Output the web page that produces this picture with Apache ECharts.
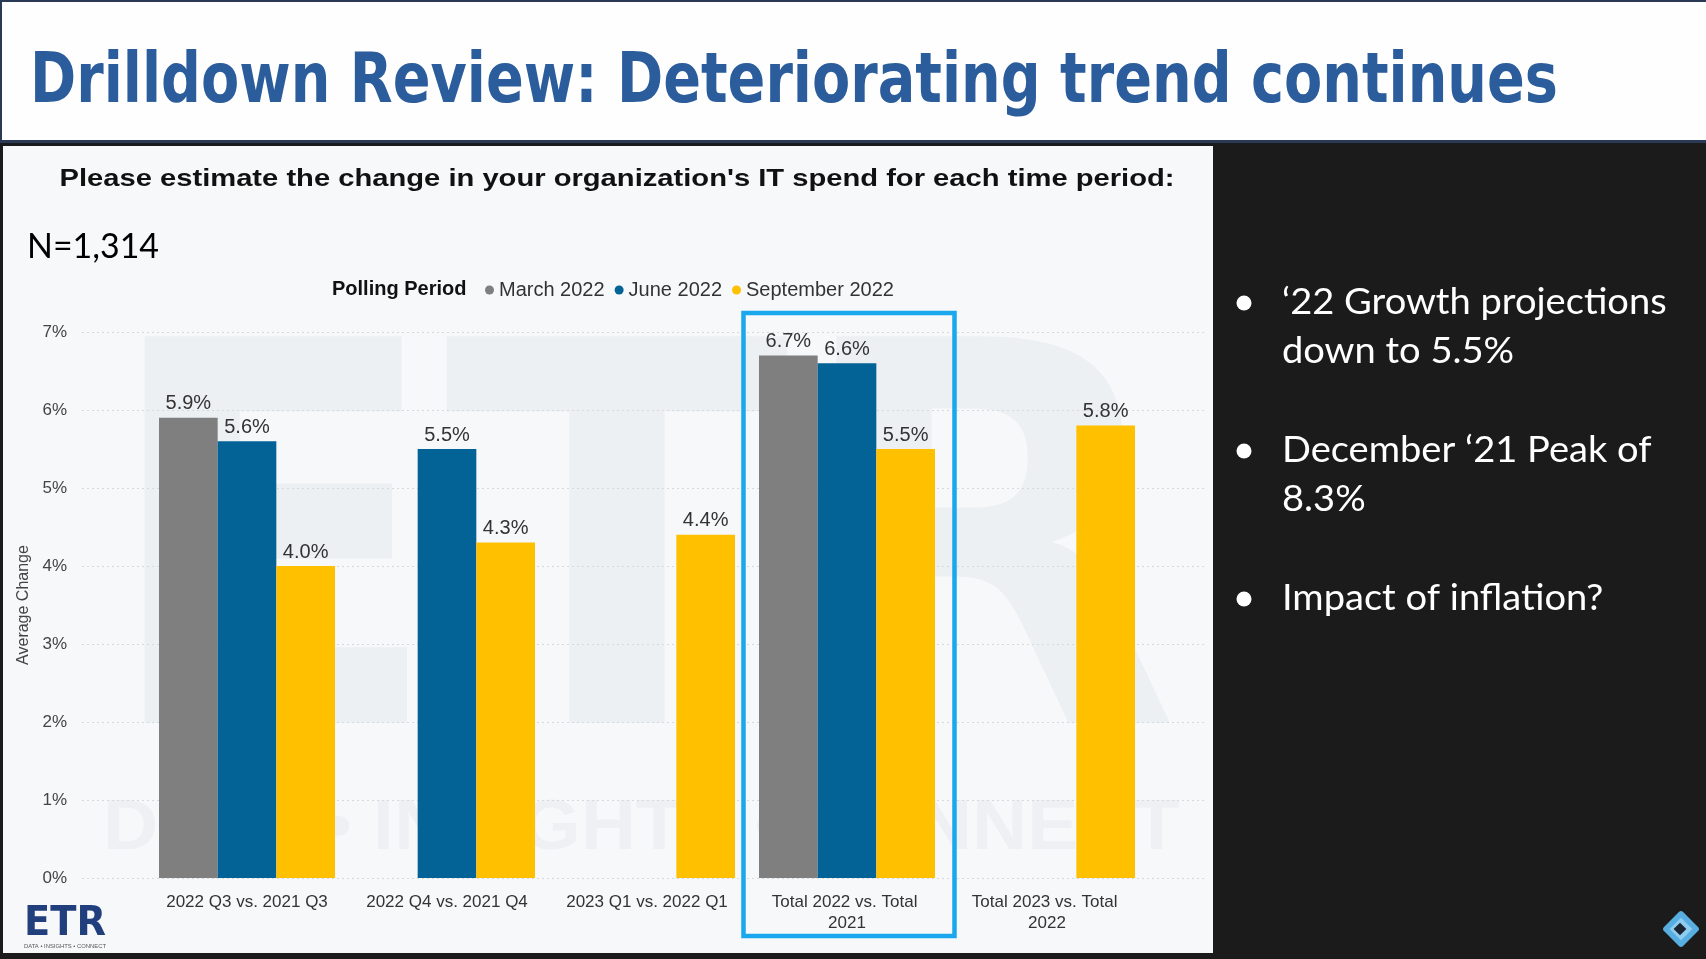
<!DOCTYPE html>
<html>
<head>
<meta charset="utf-8">
<script src="https://cdn.jsdelivr.net/npm/echarts@6/dist/echarts.min.js"></script>
<style>
html,body{margin:0;padding:0;background:#1b1b1b;overflow:hidden}
#main{width:1706px;height:959px}
</style>
</head>
<body>
<div id="main"></div>
<script>
// ---------------- data ----------------
const categories = [
  '2022 Q3 vs. 2021 Q3',
  '2022 Q4 vs. 2021 Q4',
  '2023 Q1 vs. 2022 Q1',
  'Total 2022 vs. Total 2021',
  'Total 2023 vs. Total 2022'
];
const seriesNames = ['March 2022', 'June 2022', 'September 2022'];
const march2022 = [5.9, null, null, 6.7, null];
const june2022 = [5.6, 5.5, null, 6.6, null];
const september2022 = [4.0, 4.3, 4.4, 5.5, 5.8];
const yTickValues = [0, 1, 2, 3, 4, 5, 6, 7];
const highlightedCategory = 'Total 2022 vs. Total 2021';

const titleText = 'Drilldown Review: Deteriorating trend continues';
const questionText = "Please estimate the change in your organization's IT spend for each time period:";
const sampleText = 'N=1,314';
const legendTitle = 'Polling Period';
const yAxisTitle = 'Average Change';
const bulletLines = [
  ['\u201822 Growth projections', 'down to 5.5%'],
  ['December \u201821 Peak of', '8.3%'],
  ['Impact of inflation?']
];

// ---------------- styles ----------------
const COLORS = ['#7f7f7f', '#036396', '#ffc000'];
const SANS = '"Liberation Sans", Arial, sans-serif';
const CAL = 'Lato, "Open Sans", sans-serif';
const VERD = '"DejaVu Sans", Verdana, sans-serif';

const mctx = document.createElement('canvas').getContext('2d');
function fitScale(text, font, target) {
  mctx.font = font;
  return target / mctx.measureText(text).width;
}
function textEl(id, text, x, y, opts) {
  const size = opts.size, weight = opts.weight || 'normal', family = opts.family || SANS;
  const font = weight + ' ' + size + 'px ' + family;
  const sx = opts.target ? fitScale(text, font, opts.target) : (opts.scaleX || 1);
  return {
    id: id, type: 'text', x: x, y: y, scaleX: sx, z: opts.z == null ? 5 : opts.z,
    rotation: opts.rotation || 0, silent: true,
    style: {
      text: text, fill: opts.fill || '#000', font: font,
      fontSize: size, fontWeight: weight, fontFamily: family,
      textAlign: opts.align || 'left', align: opts.align || 'left',
      textVerticalAlign: 'middle', verticalAlign: 'middle'
    }
  };
}

const chart = echarts.init(document.getElementById('main'), null, {renderer: 'canvas'});

const graphics = [];
// backgrounds
graphics.push({id: 'titleBand', type: 'rect', shape: {x: 0, y: 0, width: 1706, height: 141}, style: {fill: '#fefefe'}, z: -30, silent: true});
graphics.push({id: 'topBorder', type: 'rect', shape: {x: 0, y: 0, width: 1706, height: 2}, style: {fill: '#2a3a56'}, z: -29, silent: true});
graphics.push({id: 'leftBorder', type: 'rect', shape: {x: 0, y: 0, width: 2, height: 141}, style: {fill: '#2a3a56'}, z: -29, silent: true});
graphics.push({id: 'titleLine', type: 'rect', shape: {x: 0, y: 140, width: 1706, height: 3}, style: {fill: '#2a3a56'}, z: -29, silent: true});
graphics.push({id: 'chartBg', type: 'rect', shape: {x: 3, y: 146, width: 1210, height: 807}, style: {fill: '#f7f8fa'}, z: -30, silent: true});

// watermark
graphics.push(textEl('wmETR', 'ETR', 98, 585, {size: 530, weight: 'bold', family: VERD, fill: '#edf0f3', target: 1082, z: -20}));
graphics.push(textEl('wmTag', 'DATA \u2022 INSIGHTS \u2022 CONNECT', 103, 830, {size: 70, weight: 'bold', family: SANS, fill: '#eef0f3', target: 1077, z: -20}));

// texts
graphics.push(textEl('title', titleText, 30, 84, {size: 70, weight: 'bold', family: VERD, fill: '#2b5c9c', target: 1528}));
graphics.push(textEl('question', questionText, 617, 179, {size: 24, weight: 'bold', family: SANS, fill: '#111111', align: 'center', target: 1115}));
graphics.push(textEl('sample', sampleText, 27, 247, {size: 35, family: CAL, fill: '#000000', target: 132}));
graphics.push(textEl('legendTitle', legendTitle, 332, 289, {size: 20, weight: 'bold', family: SANS, fill: '#111111'}));

// right panel bullets
const bulletFont = 'normal 36px ' + CAL;
const bScale = (fitScale(bulletLines[0][0], bulletFont, 383) + fitScale(bulletLines[1][0], bulletFont, 367) + fitScale(bulletLines[2][0], bulletFont, 325)) / 3;
const bulletY = [302, 450, 598];
const lineGap = 49;
bulletLines.forEach(function (lines, i) {
  graphics.push({id: 'dot' + i, type: 'circle', shape: {cx: 1244, cy: bulletY[i] + 1, r: 7.5}, style: {fill: '#ffffff'}, z: 5, silent: true});
  lines.forEach(function (ln, j) {
    graphics.push(textEl('bl' + i + '_' + j, ln, 1282, bulletY[i] + j * lineGap, {size: 36, family: CAL, fill: '#ffffff', scaleX: bScale}));
  });
});

// ETR logo bottom-left
graphics.push(textEl('logo', 'ETR', 24, 924, {size: 41, weight: 'bold', family: VERD, fill: '#203f7c', target: 82}));
graphics.push(textEl('logoTag', 'DATA \u2022 INSIGHTS \u2022 CONNECT', 24, 946, {size: 6, family: SANS, fill: '#555555', target: 82}));

// icon bottom-right
graphics.push({id: 'icoOuter', type: 'rect', x: 1681, y: 929, rotation: Math.PI / 4, shape: {x: -13.5, y: -13.5, width: 27, height: 27, r: 3}, style: {fill: '#58aee0'}, z: 5, silent: true});
graphics.push({id: 'icoMid', type: 'rect', x: 1681, y: 929, rotation: Math.PI / 4, shape: {x: -8, y: -8, width: 16, height: 16}, style: {fill: '#8fcdf0'}, z: 6, silent: true});
graphics.push({id: 'icoInner', type: 'rect', x: 1680, y: 929, rotation: Math.PI / 4, shape: {x: -4.5, y: -4.5, width: 9, height: 9}, style: {fill: '#1b2430'}, z: 7, silent: true});

const yMin = yTickValues[0], yMax = yTickValues[yTickValues.length - 1];
const seriesData = [march2022, june2022, september2022];

const option = {
  backgroundColor: '#1b1b1b',
  animation: false,
  textStyle: {fontFamily: SANS},
  legend: {
    data: seriesNames, left: 480, top: 275, icon: 'circle',
    itemWidth: 9, itemHeight: 9, itemGap: 10,
    textStyle: {fontSize: 20, color: '#333333', fontFamily: SANS},
    selectedMode: false
  },
  grid: [
    {left: 82, right: 499, top: 332, bottom: 81, outerBoundsMode: 'none', containLabel: false},
    {left: 147, right: 559, top: 332, bottom: 81, outerBoundsMode: 'none', containLabel: false}
  ],
  xAxis: [
    {gridIndex: 0, type: 'value', min: 0, max: 1, show: false},
    {
      gridIndex: 1, type: 'category', data: categories,
      axisLine: {show: false}, axisTick: {show: false},
      axisLabel: {interval: 0, fontSize: 17, color: '#333333', margin: 14, lineHeight: 21, width: 185, overflow: 'break', fontFamily: SANS}
    }
  ],
  yAxis: [
    {
      gridIndex: 0, type: 'value', min: yMin, max: yMax, interval: 1,
      axisLine: {show: false}, axisTick: {show: false},
      axisLabel: {formatter: function (v) { return v + '%'; }, fontSize: 17, color: '#444444', margin: 15, fontFamily: SANS},
      splitLine: {show: true, lineStyle: {type: [2, 3], color: '#d6d9de', width: 1}},
      name: yAxisTitle, nameLocation: 'middle', nameGap: 47, nameRotate: 90,
      nameTextStyle: {fontSize: 16, color: '#444444', fontFamily: SANS}
    },
    {gridIndex: 1, type: 'value', min: yMin, max: yMax, interval: 1, show: false, splitLine: {show: false}}
  ],
  series: seriesNames.map(function (name, i) {
    return {
      name: name, type: 'bar', xAxisIndex: 1, yAxisIndex: 1,
      data: seriesData[i], barGap: '0%', barCategoryGap: '12%',
      itemStyle: {color: COLORS[i]},
      emphasis: {disabled: true},
      label: {
        show: true, position: 'top', distance: 4, fontSize: 20, color: '#333333', fontFamily: SANS,
        formatter: function (p) { return p.value == null ? '' : Number(p.value).toFixed(1) + '%'; }
      }
    };
  }),
  graphic: {elements: graphics}
};
chart.setOption(option);

// highlight box around the selected category, positioned from the axis scales
const cx = chart.convertToPixel({xAxisIndex: 1}, highlightedCategory);
const step = Math.abs(chart.convertToPixel({xAxisIndex: 1}, categories[4]) - chart.convertToPixel({xAxisIndex: 1}, categories[3]));
const yTop = chart.convertToPixel({yAxisIndex: 1}, yMax);
const yBot = chart.convertToPixel({yAxisIndex: 1}, yMin);
graphics.push({
  id: 'highlight', type: 'rect',
  shape: {x: cx - step * 0.5275 + 2, y: yTop - 19, width: step * 1.055, height: (yBot + 58) - (yTop - 19)},
  style: {fill: 'transparent', stroke: '#1aa7ee', lineWidth: 4.5}, z: 10, silent: true
});
chart.setOption({graphic: {elements: graphics}});
</script>
</body>
</html>
